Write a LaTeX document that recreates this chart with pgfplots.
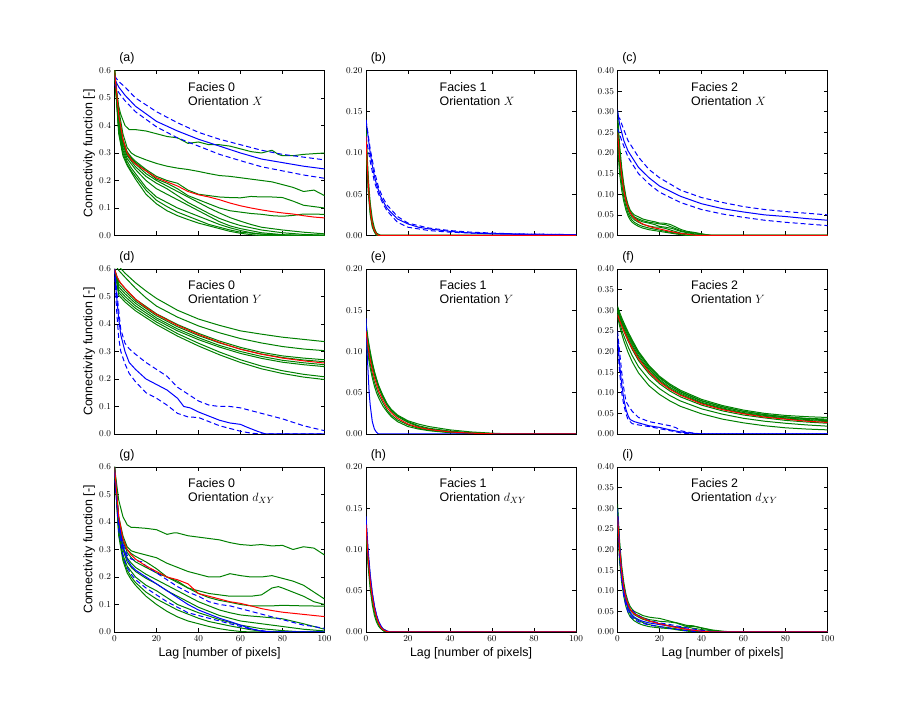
\documentclass[border=0pt]{standalone}
\usepackage{pgfplots}
\pgfplotsset{compat=1.18}
\usepackage{fontspec}
\newfontfamily\lsans{Liberation Sans}
\definecolor{mgreen}{rgb}{0,0.5,0}
\definecolor{mblue}{rgb}{0,0,1}
\definecolor{mred}{rgb}{1,0,0}
\pgfplotsset{
 panel/.style={scale only axis, width=210pt, height=165pt, xmin=0, xmax=100, ymin=0,
   xtick={0,20,40,60,80,100}, xtick pos=both, ytick pos=both, tick align=inside,
   major tick length=4pt, axis line style={line width=0.8pt},
   every tick/.style={black,line width=0.6pt},
   tick label style={font=\fontsize{8.8}{10}\selectfont},
   label style={font=\lsans\fontsize{12.4}{14}\selectfont},
   title style={at={(0.022,1.018)}, anchor=base west, inner sep=0pt, font=\lsans\fontsize{12.4}{14}\selectfont},
   every axis plot/.append style={line width=1pt, line join=round},
 },
 c1/.style={ymax=0.6, ytick={0,0.1,0.2,0.3,0.4,0.5,0.6}, yticklabel style={/pgf/number format/.cd,fixed,fixed zerofill,precision=1}},
 c2/.style={ymax=0.2, ytick={0,0.05,0.1,0.15,0.2}, yticklabel style={/pgf/number format/.cd,fixed,fixed zerofill,precision=2}},
 c3/.style={ymax=0.4, ytick={0,0.05,0.1,0.15,0.2,0.25,0.3,0.35,0.4}, yticklabel style={/pgf/number format/.cd,fixed,fixed zerofill,precision=2}},
 notx/.style={xticklabels={}},
 bot/.style={xlabel={Lag [number of pixels]}, xlabel style={at={(axis description cs:0.5,-0.15)}, anchor=base}},
 ylab/.style={ylabel={Connectivity function [-]}, ylabel style={at={(axis description cs:-0.105,0.5)}, anchor=base}},
 gr/.style={mgreen}, bl/.style={mblue}, bd/.style={mblue, dash pattern=on 5pt off 3pt}, rd/.style={mred},
 facies/.style 2 args={extra description/.code={\node[anchor=north west, align=left, inner sep=0pt, font=\lsans\fontsize{12.4}{14}\selectfont] at (0.35,0.93) {Facies #1\\Orientation #2};}},
}
\begin{document}
\begin{tikzpicture}
\useasboundingbox (0pt,0pt) rectangle (919pt,722pt);
% ---------------- (a)
\begin{axis}[panel, c1, notx, ylab, title={(a)}, facies={0}{$X$}, at={(114.5pt,486.5pt)}, anchor=south west]
\addplot[gr] coordinates {(0,0.6)(1,0.52)(2,0.47)(3,0.44)(5,0.4)(7,0.385)(10,0.385)(15,0.38)(20,0.37)(25,0.36)(30,0.355)(35,0.335)(40,0.34)(45,0.33)(50,0.33)(55,0.325)(60,0.315)(65,0.305)(70,0.3)(75,0.31)(78,0.295)(80,0.29)(85,0.29)(90,0.295)(100,0.3)};
\addplot[gr] coordinates {(0,0.6)(2,0.46)(4,0.37)(6,0.32)(8,0.3)(10,0.29)(15,0.275)(20,0.262)(25,0.252)(30,0.245)(35,0.24)(40,0.233)(45,0.225)(50,0.218)(55,0.215)(60,0.21)(65,0.205)(70,0.2)(75,0.195)(80,0.185)(85,0.175)(90,0.16)(95,0.165)(100,0.145)};
\addplot[gr] coordinates {(0,0.6)(2,0.44)(4,0.35)(6,0.305)(8,0.285)(10,0.27)(15,0.24)(20,0.215)(25,0.2)(30,0.19)(35,0.165)(40,0.15)(45,0.145)(50,0.14)(55,0.138)(60,0.137)(65,0.142)(70,0.14)(75,0.14)(80,0.138)(85,0.125)(90,0.11)(95,0.105)(100,0.1)};
\addplot[gr] coordinates {(0,0.6)(2,0.43)(4,0.345)(6,0.3)(8,0.28)(10,0.265)(15,0.235)(20,0.205)(25,0.19)(30,0.17)(35,0.145)(40,0.13)(45,0.115)(50,0.1)(55,0.09)(60,0.085)(65,0.08)(70,0.077)(75,0.072)(80,0.07)(85,0.073)(90,0.078)(100,0.077)};
\addplot[gr] coordinates {(0,0.6)(2,0.42)(4,0.34)(6,0.295)(8,0.275)(10,0.26)(15,0.225)(20,0.2)(25,0.18)(30,0.16)(35,0.14)(40,0.12)(45,0.1)(50,0.082)(55,0.065)(60,0.052)(65,0.04)(70,0.03)(80,0.02)(90,0.012)(100,0.006)};
\addplot[gr] coordinates {(0,0.6)(2,0.41)(4,0.33)(6,0.29)(8,0.27)(10,0.25)(15,0.215)(20,0.19)(25,0.17)(30,0.145)(35,0.12)(40,0.1)(45,0.08)(50,0.062)(55,0.048)(60,0.036)(70,0.02)(80,0.01)(90,0.004)(100,0.001)};
\addplot[gr] coordinates {(0,0.6)(2,0.4)(4,0.32)(6,0.28)(8,0.26)(10,0.24)(15,0.2)(20,0.17)(25,0.15)(30,0.13)(35,0.11)(40,0.09)(45,0.07)(50,0.05)(55,0.035)(60,0.025)(70,0.01)(80,0.003)(90,0)(100,0)};
\addplot[gr] coordinates {(0,0.6)(2,0.39)(4,0.31)(6,0.27)(8,0.245)(10,0.225)(15,0.175)(20,0.14)(25,0.12)(30,0.1)(35,0.085)(40,0.07)(45,0.055)(50,0.04)(55,0.028)(60,0.018)(65,0.01)(70,0.005)(80,0)(100,0)};
\addplot[gr] coordinates {(0,0.6)(2,0.38)(4,0.3)(6,0.26)(8,0.235)(10,0.215)(15,0.165)(20,0.128)(25,0.105)(30,0.085)(35,0.07)(40,0.055)(45,0.04)(50,0.03)(55,0.02)(60,0.012)(70,0.005)(80,0.002)(90,0)(100,0)};
\addplot[gr] coordinates {(0,0.6)(2,0.37)(4,0.29)(6,0.255)(8,0.23)(10,0.205)(15,0.15)(20,0.115)(25,0.09)(30,0.072)(35,0.058)(40,0.045)(45,0.035)(50,0.025)(55,0.015)(60,0.008)(65,0.003)(70,0)(100,0)};
\addplot[bl] coordinates {(0,0.57)(2,0.54)(5,0.51)(10,0.47)(20,0.415)(30,0.38)(40,0.35)(50,0.325)(60,0.3)(70,0.278)(80,0.265)(90,0.252)(100,0.242)};
\addplot[bd] coordinates {(0,0.58)(2,0.56)(5,0.54)(10,0.5)(20,0.45)(30,0.41)(40,0.375)(50,0.35)(60,0.33)(70,0.31)(80,0.295)(90,0.285)(100,0.275)};
\addplot[bd] coordinates {(0,0.55)(2,0.52)(5,0.49)(10,0.45)(20,0.395)(30,0.355)(40,0.325)(50,0.295)(60,0.272)(70,0.25)(80,0.235)(90,0.22)(100,0.208)};
\addplot[rd] coordinates {(0,0.6)(2,0.44)(4,0.35)(6,0.3)(8,0.275)(10,0.26)(15,0.235)(20,0.21)(25,0.195)(30,0.18)(35,0.16)(40,0.148)(45,0.14)(50,0.13)(55,0.118)(60,0.108)(65,0.1)(70,0.093)(75,0.087)(80,0.082)(85,0.078)(90,0.072)(95,0.067)(100,0.064)};
\end{axis}
% ---------------- (b)
\begin{axis}[panel, c2, notx, title={(b)}, facies={1}{$X$}, at={(366pt,486.5pt)}, anchor=south west]
\addplot[gr] coordinates {(0,0.125)(0.5,0.095)(1,0.07)(1.5,0.05)(2,0.034)(3,0.016)(4,0.007)(5,0.002)(6,0)(100,0)};
\addplot[gr] coordinates {(0,0.115)(0.5,0.085)(1,0.06)(1.5,0.042)(2,0.028)(3,0.012)(4,0.005)(5,0.001)(6,0)(100,0)};
\addplot[gr] coordinates {(0,0.13)(0.5,0.1)(1,0.075)(1.5,0.055)(2,0.04)(3,0.02)(4,0.009)(5,0.003)(7,0)(100,0)};
\addplot[gr] coordinates {(0,0.11)(1,0.055)(2,0.025)(3,0.01)(4,0.004)(5,0)(100,0)};
\addplot[bl] coordinates {(0,0.14)(1,0.12)(2,0.1)(3,0.085)(4,0.072)(5,0.062)(7,0.047)(10,0.033)(15,0.02)(20,0.014)(25,0.01)(30,0.008)(40,0.005)(50,0.003)(60,0.002)(80,0.001)(100,0)};
\addplot[bd] coordinates {(0,0.14)(2,0.105)(4,0.078)(6,0.058)(8,0.046)(10,0.037)(15,0.023)(20,0.015)(30,0.009)(40,0.006)(50,0.004)(70,0.002)(100,0.001)};
\addplot[bd] coordinates {(0,0.12)(2,0.09)(4,0.065)(6,0.05)(8,0.039)(10,0.03)(15,0.016)(20,0.01)(30,0.006)(40,0.004)(50,0.003)(70,0.002)(100,0.001)};
\addplot[rd] coordinates {(0,0.12)(0.5,0.09)(1,0.066)(1.5,0.047)(2,0.032)(3,0.014)(4,0.006)(5,0.002)(6,0)(100,0)};
\end{axis}
% ---------------- (c)
\begin{axis}[panel, c3, notx, title={(c)}, facies={2}{$X$}, at={(617.5pt,486.5pt)}, anchor=south west]
\addplot[gr] coordinates {(0,0.3)(1,0.22)(2,0.165)(3,0.125)(4,0.095)(5,0.075)(6,0.062)(7,0.055)(8,0.05)(10,0.045)(12,0.04)(15,0.036)(18,0.033)(20,0.03)(22,0.03)(25,0.027)(28,0.02)(30,0.015)(33,0.01)(36,0.008)(40,0.004)(45,0)(100,0)};
\addplot[gr] coordinates {(0,0.28)(1,0.2)(2,0.15)(3,0.115)(4,0.088)(5,0.07)(6,0.058)(7,0.05)(8,0.045)(10,0.04)(12,0.036)(15,0.032)(18,0.03)(20,0.028)(23,0.026)(26,0.02)(30,0.012)(33,0.008)(37,0.006)(42,0.002)(45,0)(100,0)};
\addplot[gr] coordinates {(0,0.26)(1,0.19)(2,0.14)(3,0.105)(4,0.08)(5,0.062)(6,0.05)(7,0.043)(8,0.038)(10,0.032)(12,0.027)(15,0.023)(18,0.02)(20,0.02)(23,0.017)(26,0.012)(30,0.006)(35,0.003)(40,0)(100,0)};
\addplot[gr] coordinates {(0,0.24)(1,0.17)(2,0.125)(3,0.092)(4,0.07)(5,0.054)(6,0.044)(7,0.037)(8,0.032)(10,0.026)(12,0.022)(15,0.018)(18,0.015)(20,0.013)(25,0.008)(30,0.004)(34,0)(100,0)};
\addplot[gr] coordinates {(0,0.27)(1,0.2)(2,0.15)(3,0.112)(4,0.086)(5,0.068)(6,0.056)(7,0.048)(8,0.043)(10,0.037)(12,0.033)(15,0.03)(18,0.026)(20,0.022)(23,0.02)(26,0.017)(30,0.01)(34,0.006)(38,0.003)(42,0)(100,0)};
\addplot[gr] coordinates {(0,0.22)(1,0.15)(2,0.11)(3,0.082)(4,0.062)(5,0.048)(6,0.038)(7,0.032)(8,0.028)(10,0.022)(12,0.018)(15,0.014)(20,0.01)(25,0.006)(30,0.002)(33,0)(100,0)};
\addplot[bl] coordinates {(0,0.305)(1,0.27)(2,0.25)(3,0.23)(5,0.205)(10,0.165)(15,0.14)(20,0.12)(30,0.095)(40,0.077)(50,0.065)(60,0.057)(70,0.05)(80,0.046)(90,0.041)(100,0.037)};
\addplot[bd] coordinates {(0,0.28)(1,0.285)(2,0.27)(5,0.23)(10,0.19)(15,0.16)(20,0.14)(30,0.11)(40,0.092)(50,0.08)(60,0.07)(70,0.063)(80,0.058)(90,0.054)(100,0.05)};
\addplot[bd] coordinates {(0,0.26)(2,0.23)(5,0.19)(10,0.15)(15,0.125)(20,0.105)(30,0.08)(40,0.063)(50,0.052)(60,0.044)(70,0.037)(80,0.032)(90,0.028)(100,0.024)};
\addplot[rd] coordinates {(0,0.25)(1,0.19)(2,0.145)(3,0.11)(4,0.085)(5,0.068)(6,0.056)(7,0.048)(8,0.042)(10,0.034)(12,0.028)(15,0.022)(18,0.018)(20,0.016)(25,0.01)(30,0.005)(35,0.002)(38,0)(100,0)};
\end{axis}
% ---------------- (d)
\begin{axis}[panel, c1, notx, ylab, title={(d)}, facies={0}{$Y$}, at={(114.5pt,288pt)}, anchor=south west]
\addplot[gr] coordinates {(0,0.63)(2,0.61)(5,0.585)(10,0.55)(15,0.52)(20,0.493)(30,0.45)(40,0.418)(50,0.395)(60,0.375)(70,0.363)(80,0.352)(90,0.344)(100,0.336)};
\addplot[gr] coordinates {(0,0.62)(2,0.595)(5,0.57)(10,0.53)(15,0.495)(20,0.465)(30,0.425)(40,0.393)(50,0.368)(60,0.347)(70,0.331)(80,0.318)(90,0.309)(100,0.303)};
\addplot[gr] coordinates {(0,0.6)(2,0.555)(5,0.53)(10,0.49)(20,0.437)(30,0.398)(40,0.366)(50,0.338)(60,0.315)(70,0.297)(80,0.284)(90,0.276)(100,0.27)};
\addplot[gr] coordinates {(0,0.6)(2,0.545)(5,0.52)(10,0.483)(20,0.43)(30,0.39)(40,0.358)(50,0.331)(60,0.309)(70,0.291)(80,0.278)(90,0.269)(100,0.263)};
\addplot[gr] coordinates {(0,0.6)(2,0.535)(5,0.51)(10,0.475)(20,0.422)(30,0.382)(40,0.35)(50,0.322)(60,0.3)(70,0.282)(80,0.268)(90,0.259)(100,0.252)};
\addplot[gr] coordinates {(0,0.6)(2,0.525)(5,0.5)(10,0.466)(20,0.415)(30,0.375)(40,0.343)(50,0.316)(60,0.293)(70,0.275)(80,0.261)(90,0.252)(100,0.245)};
\addplot[gr] coordinates {(0,0.6)(2,0.515)(5,0.49)(10,0.457)(20,0.407)(30,0.365)(40,0.33)(50,0.298)(60,0.27)(70,0.247)(80,0.23)(90,0.217)(100,0.208)};
\addplot[gr] coordinates {(0,0.6)(2,0.505)(5,0.48)(10,0.448)(20,0.398)(30,0.356)(40,0.32)(50,0.288)(60,0.26)(70,0.237)(80,0.22)(90,0.207)(100,0.198)};
\addplot[bl] coordinates {(0,0.6)(1,0.5)(2,0.42)(3,0.36)(5,0.3)(7,0.26)(10,0.235)(15,0.2)(20,0.18)(25,0.16)(30,0.13)(33,0.1)(36,0.095)(40,0.08)(45,0.065)(50,0.05)(55,0.04)(60,0.035)(63,0.025)(68,0.01)(72,0)(100,0)};
\addplot[bd] coordinates {(0,0.6)(2,0.45)(3,0.38)(5,0.33)(7,0.31)(10,0.29)(15,0.26)(20,0.235)(25,0.21)(30,0.17)(35,0.145)(40,0.12)(45,0.105)(50,0.1)(55,0.1)(60,0.095)(65,0.085)(70,0.075)(80,0.055)(90,0.03)(100,0.012)};
\addplot[bd] coordinates {(0,0.6)(1,0.45)(2,0.35)(3,0.3)(5,0.255)(7,0.22)(10,0.19)(15,0.15)(20,0.13)(25,0.105)(30,0.075)(35,0.062)(40,0.06)(45,0.045)(50,0.03)(55,0.02)(60,0.01)(65,0.003)(70,0)(100,0)};
\addplot[rd] coordinates {(0,0.6)(1,0.575)(2,0.56)(3,0.548)(5,0.53)(10,0.49)(15,0.46)(20,0.435)(30,0.395)(40,0.362)(50,0.333)(60,0.308)(70,0.29)(80,0.276)(90,0.266)(100,0.258)};
\end{axis}
% ---------------- (e)
\begin{axis}[panel, c2, notx, title={(e)}, facies={1}{$Y$}, at={(366pt,288pt)}, anchor=south west]
\addplot[gr] coordinates {(0,0.135)(1,0.115)(2,0.1)(3,0.087)(4,0.076)(5,0.067)(6,0.059)(8,0.047)(10,0.037)(12,0.03)(15,0.023)(20,0.016)(25,0.012)(30,0.009)(40,0.005)(50,0.0025)(60,0.001)(70,0)(100,0)};
\addplot[gr] coordinates {(0,0.13)(1,0.11)(2,0.095)(3,0.082)(4,0.072)(5,0.064)(6,0.056)(8,0.044)(10,0.035)(12,0.028)(15,0.021)(20,0.014)(25,0.009)(30,0.006)(40,0.003)(50,0.0012)(60,0.0004)(70,0)(100,0)};
\addplot[gr] coordinates {(0,0.12)(1,0.1)(2,0.085)(3,0.073)(4,0.063)(5,0.055)(6,0.048)(8,0.038)(10,0.029)(12,0.023)(15,0.017)(20,0.011)(25,0.007)(30,0.0045)(40,0.002)(50,0.0008)(60,0)(100,0)};
\addplot[gr] coordinates {(0,0.115)(1,0.095)(2,0.08)(3,0.068)(4,0.058)(5,0.05)(6,0.044)(8,0.034)(10,0.027)(12,0.021)(15,0.015)(20,0.009)(25,0.006)(30,0.004)(40,0.0015)(50,0.0005)(60,0)(100,0)};
\addplot[gr] coordinates {(0,0.13)(1,0.112)(2,0.098)(3,0.085)(4,0.075)(5,0.066)(6,0.058)(8,0.046)(10,0.036)(12,0.029)(15,0.022)(20,0.015)(25,0.01)(30,0.007)(40,0.0035)(50,0.0015)(60,0.0005)(70,0)(100,0)};
\addplot[bl] coordinates {(0,0.14)(0.5,0.1)(1,0.075)(1.5,0.05)(2,0.035)(3,0.015)(4,0.006)(5,0.002)(6,0)(100,0)};
\addplot[rd] coordinates {(0,0.125)(1,0.105)(2,0.09)(3,0.078)(4,0.068)(5,0.06)(6,0.052)(8,0.041)(10,0.032)(12,0.026)(15,0.019)(20,0.012)(25,0.008)(30,0.0055)(40,0.0025)(50,0.001)(60,0.0003)(70,0)(100,0)};
\end{axis}
% ---------------- (f)
\begin{axis}[panel, c3, notx, title={(f)}, facies={2}{$Y$}, at={(617.5pt,288pt)}, anchor=south west]
\addplot[gr] coordinates {(0,0.31)(1,0.295)(2,0.282)(3,0.27)(5,0.248)(7,0.228)(10,0.2)(15,0.166)(20,0.14)(25,0.121)(30,0.106)(40,0.084)(50,0.069)(60,0.058)(70,0.05)(80,0.045)(90,0.042)(100,0.04)};
\addplot[gr] coordinates {(0,0.305)(1,0.29)(2,0.277)(3,0.265)(5,0.243)(7,0.222)(10,0.195)(15,0.161)(20,0.136)(25,0.117)(30,0.102)(40,0.08)(50,0.066)(60,0.055)(70,0.047)(80,0.042)(90,0.038)(100,0.036)};
\addplot[gr] coordinates {(0,0.3)(1,0.285)(2,0.272)(3,0.26)(5,0.238)(7,0.217)(10,0.19)(15,0.157)(20,0.132)(25,0.113)(30,0.099)(40,0.077)(50,0.063)(60,0.052)(70,0.045)(80,0.039)(90,0.035)(100,0.032)};
\addplot[gr] coordinates {(0,0.3)(1,0.283)(2,0.268)(3,0.255)(5,0.232)(7,0.212)(10,0.186)(15,0.153)(20,0.129)(25,0.11)(30,0.096)(40,0.075)(50,0.061)(60,0.05)(70,0.043)(80,0.037)(90,0.033)(100,0.03)};
\addplot[gr] coordinates {(0,0.295)(1,0.278)(2,0.263)(3,0.25)(5,0.226)(7,0.205)(10,0.178)(15,0.146)(20,0.122)(25,0.104)(30,0.09)(40,0.07)(50,0.056)(60,0.046)(70,0.039)(80,0.033)(90,0.029)(100,0.026)};
\addplot[gr] coordinates {(0,0.29)(1,0.27)(2,0.253)(3,0.238)(5,0.212)(7,0.19)(10,0.163)(15,0.132)(20,0.11)(25,0.093)(30,0.08)(40,0.061)(50,0.048)(60,0.038)(70,0.031)(80,0.026)(90,0.022)(100,0.019)};
\addplot[gr] coordinates {(0,0.285)(1,0.262)(2,0.243)(3,0.226)(5,0.198)(7,0.175)(10,0.148)(15,0.117)(20,0.096)(25,0.08)(30,0.067)(40,0.049)(50,0.036)(60,0.027)(70,0.02)(80,0.015)(90,0.012)(100,0.01)};
\addplot[gr] coordinates {(0,0.3)(1,0.287)(2,0.275)(3,0.264)(5,0.244)(7,0.225)(10,0.198)(15,0.164)(20,0.138)(25,0.118)(30,0.103)(40,0.081)(50,0.066)(60,0.055)(70,0.047)(80,0.041)(90,0.037)(100,0.034)};
\addplot[bl] coordinates {(0,0.24)(1,0.17)(2,0.12)(3,0.085)(4,0.06)(5,0.045)(6,0.035)(8,0.03)(10,0.027)(15,0.02)(20,0.016)(25,0.01)(30,0.005)(35,0.002)(40,0)(100,0)};
\addplot[bd] coordinates {(0,0.25)(1,0.2)(2,0.15)(3,0.11)(4,0.08)(5,0.07)(7,0.055)(10,0.04)(15,0.03)(20,0.025)(25,0.02)(28,0.015)(30,0.008)(35,0.003)(40,0)(100,0)};
\addplot[bd] coordinates {(0,0.22)(1,0.15)(2,0.1)(3,0.07)(4,0.05)(5,0.035)(7,0.025)(10,0.022)(15,0.018)(20,0.013)(25,0.008)(30,0.003)(35,0)(100,0)};
\addplot[rd] coordinates {(0,0.29)(1,0.275)(2,0.262)(3,0.25)(5,0.228)(7,0.208)(10,0.182)(15,0.15)(20,0.126)(25,0.108)(30,0.094)(40,0.073)(50,0.059)(60,0.049)(70,0.041)(80,0.036)(90,0.031)(100,0.028)};
\end{axis}
% ---------------- (g)
\begin{axis}[panel, c1, bot, ylab, title={(g)}, facies={0}{$d_{XY}$}, at={(114.5pt,90pt)}, anchor=south west]
\addplot[gr] coordinates {(0,0.6)(2,0.48)(4,0.42)(6,0.39)(8,0.38)(10,0.38)(15,0.377)(20,0.372)(25,0.355)(28,0.36)(30,0.36)(35,0.35)(40,0.345)(45,0.34)(50,0.335)(55,0.325)(60,0.318)(65,0.315)(70,0.318)(75,0.313)(80,0.315)(85,0.3)(90,0.31)(95,0.305)(100,0.28)};
\addplot[gr] coordinates {(0,0.6)(2,0.42)(4,0.35)(6,0.31)(8,0.295)(10,0.29)(15,0.28)(20,0.27)(25,0.25)(30,0.235)(35,0.22)(40,0.21)(45,0.2)(50,0.2)(55,0.212)(60,0.205)(65,0.2)(70,0.2)(75,0.205)(80,0.195)(85,0.185)(90,0.17)(95,0.145)(100,0.12)};
\addplot[gr] coordinates {(0,0.6)(2,0.41)(4,0.34)(6,0.3)(8,0.285)(10,0.275)(15,0.255)(20,0.23)(25,0.2)(30,0.18)(35,0.16)(40,0.15)(45,0.14)(50,0.135)(55,0.13)(60,0.13)(65,0.13)(70,0.135)(75,0.16)(78,0.165)(80,0.16)(85,0.145)(90,0.13)(95,0.11)(100,0.1)};
\addplot[gr] coordinates {(0,0.6)(2,0.4)(4,0.33)(6,0.29)(8,0.27)(10,0.255)(15,0.235)(20,0.215)(25,0.2)(30,0.185)(35,0.16)(40,0.14)(45,0.125)(50,0.115)(55,0.108)(60,0.1)(65,0.095)(70,0.095)(75,0.095)(80,0.097)(90,0.095)(100,0.094)};
\addplot[gr] coordinates {(0,0.6)(2,0.39)(4,0.31)(6,0.27)(8,0.25)(10,0.235)(15,0.21)(20,0.19)(25,0.17)(30,0.15)(35,0.13)(40,0.11)(45,0.095)(50,0.08)(55,0.07)(60,0.062)(65,0.058)(70,0.055)(80,0.048)(90,0.03)(100,0.01)};
\addplot[gr] coordinates {(0,0.6)(2,0.38)(4,0.3)(6,0.255)(8,0.235)(10,0.22)(15,0.195)(20,0.175)(25,0.15)(30,0.13)(35,0.11)(40,0.09)(45,0.075)(50,0.06)(55,0.05)(60,0.04)(70,0.03)(80,0.02)(90,0.01)(100,0.004)};
\addplot[gr] coordinates {(0,0.6)(2,0.37)(4,0.28)(6,0.24)(8,0.22)(10,0.2)(15,0.17)(20,0.15)(25,0.125)(30,0.1)(35,0.085)(40,0.07)(45,0.058)(50,0.045)(55,0.035)(60,0.025)(70,0.012)(80,0.005)(90,0)(100,0)};
\addplot[gr] coordinates {(0,0.6)(2,0.36)(4,0.27)(6,0.225)(8,0.2)(10,0.18)(15,0.145)(20,0.12)(25,0.1)(30,0.08)(35,0.065)(40,0.05)(45,0.038)(50,0.03)(55,0.022)(60,0.015)(65,0.008)(70,0.003)(80,0)(100,0)};
\addplot[gr] coordinates {(0,0.6)(2,0.35)(4,0.26)(6,0.215)(8,0.19)(10,0.17)(15,0.13)(20,0.1)(25,0.075)(30,0.055)(35,0.04)(40,0.03)(45,0.02)(50,0.012)(55,0.006)(60,0.002)(65,0)(100,0)};
\addplot[bd] coordinates {(0,0.58)(2,0.4)(4,0.32)(6,0.28)(8,0.265)(10,0.26)(13,0.255)(15,0.24)(20,0.215)(25,0.19)(30,0.165)(35,0.145)(40,0.13)(45,0.11)(50,0.1)(55,0.095)(60,0.085)(65,0.075)(70,0.065)(75,0.055)(80,0.045)(85,0.035)(90,0.025)(95,0.02)(100,0.013)};
\addplot[bl] coordinates {(0,0.6)(2,0.4)(4,0.31)(6,0.265)(8,0.24)(10,0.225)(15,0.2)(20,0.175)(25,0.15)(30,0.125)(35,0.1)(40,0.08)(45,0.065)(50,0.05)(55,0.038)(60,0.025)(65,0.012)(70,0.003)(75,0)(100,0)};
\addplot[bd] coordinates {(0,0.58)(2,0.37)(4,0.28)(6,0.235)(8,0.21)(10,0.19)(15,0.16)(20,0.135)(25,0.11)(30,0.09)(35,0.07)(40,0.06)(45,0.05)(50,0.04)(55,0.03)(60,0.02)(65,0.01)(70,0.005)(75,0)(100,0)};
\addplot[rd] coordinates {(0,0.6)(2,0.42)(4,0.34)(6,0.3)(8,0.28)(10,0.265)(15,0.24)(20,0.22)(25,0.2)(30,0.19)(35,0.175)(40,0.14)(45,0.13)(50,0.12)(55,0.11)(60,0.104)(65,0.095)(70,0.085)(75,0.078)(80,0.072)(85,0.068)(90,0.064)(95,0.06)(100,0.056)};
\end{axis}
% ---------------- (h)
\begin{axis}[panel, c2, bot, title={(h)}, facies={1}{$d_{XY}$}, at={(366pt,90pt)}, anchor=south west]
\addplot[gr] coordinates {(0,0.13)(1,0.085)(2,0.058)(3,0.038)(4,0.024)(5,0.015)(6,0.009)(7,0.005)(8,0.002)(10,0)(100,0)};
\addplot[gr] coordinates {(0,0.12)(1,0.08)(2,0.052)(3,0.033)(4,0.02)(5,0.012)(6,0.007)(7,0.004)(8,0.002)(9,0)(100,0)};
\addplot[gr] coordinates {(0,0.135)(1,0.095)(2,0.066)(3,0.045)(4,0.03)(5,0.019)(6,0.012)(7,0.007)(8,0.004)(10,0.001)(11,0)(100,0)};
\addplot[bl] coordinates {(0,0.14)(0.5,0.12)(1,0.1)(1.5,0.085)(2,0.07)(3,0.048)(4,0.032)(5,0.021)(6,0.013)(7,0.008)(8,0.004)(9,0.002)(10,0.001)(12,0)(100,0)};
\addplot[bd] coordinates {(0,0.135)(1,0.095)(2,0.066)(3,0.046)(4,0.031)(5,0.02)(6,0.012)(7,0.007)(8,0.004)(10,0.001)(12,0)(100,0)};
\addplot[rd] coordinates {(0,0.13)(1,0.09)(2,0.062)(3,0.042)(4,0.028)(5,0.018)(6,0.011)(7,0.006)(8,0.003)(10,0.0005)(12,0)(100,0)};
\end{axis}
% ---------------- (i)
\begin{axis}[panel, c3, bot, title={(i)}, facies={2}{$d_{XY}$}, at={(617.5pt,90pt)}, anchor=south west]
\addplot[gr] coordinates {(0,0.31)(1,0.22)(2,0.16)(3,0.12)(4,0.092)(5,0.074)(6,0.062)(7,0.055)(8,0.05)(10,0.045)(12,0.04)(15,0.036)(18,0.034)(20,0.033)(23,0.029)(26,0.025)(30,0.02)(33,0.016)(36,0.015)(40,0.01)(45,0.005)(50,0.002)(55,0)(100,0)};
\addplot[gr] coordinates {(0,0.3)(1,0.21)(2,0.15)(3,0.11)(4,0.084)(5,0.067)(6,0.055)(8,0.045)(10,0.04)(12,0.035)(15,0.03)(18,0.028)(20,0.026)(25,0.024)(28,0.022)(30,0.018)(35,0.01)(40,0.006)(45,0.003)(50,0)(100,0)};
\addplot[gr] coordinates {(0,0.28)(1,0.19)(2,0.135)(3,0.098)(4,0.073)(5,0.056)(6,0.045)(8,0.034)(10,0.028)(12,0.023)(15,0.018)(20,0.013)(25,0.01)(30,0.006)(35,0.003)(40,0)(100,0)};
\addplot[gr] coordinates {(0,0.26)(1,0.17)(2,0.12)(3,0.086)(4,0.062)(5,0.047)(6,0.037)(8,0.027)(10,0.021)(12,0.017)(15,0.013)(20,0.01)(25,0.008)(30,0.004)(35,0.001)(38,0)(100,0)};
\addplot[gr] coordinates {(0,0.29)(1,0.2)(2,0.145)(3,0.107)(4,0.082)(5,0.064)(6,0.053)(8,0.042)(10,0.036)(12,0.031)(15,0.026)(18,0.023)(20,0.02)(25,0.015)(30,0.011)(33,0.012)(36,0.014)(40,0.01)(45,0.004)(50,0.001)(53,0)(100,0)};
\addplot[bl] coordinates {(0,0.29)(1,0.2)(2,0.14)(3,0.1)(4,0.075)(5,0.058)(6,0.048)(7,0.041)(8,0.036)(10,0.03)(12,0.026)(15,0.022)(20,0.018)(25,0.014)(30,0.01)(35,0.005)(40,0.002)(45,0)(100,0)};
\addplot[bd] coordinates {(0,0.3)(1,0.21)(2,0.15)(3,0.11)(4,0.085)(5,0.068)(6,0.058)(8,0.047)(10,0.04)(12,0.034)(15,0.028)(20,0.022)(25,0.018)(30,0.013)(35,0.008)(40,0.004)(45,0.001)(48,0)(100,0)};
\addplot[bd] coordinates {(0,0.27)(1,0.18)(2,0.125)(3,0.088)(4,0.064)(5,0.049)(6,0.04)(8,0.03)(10,0.025)(12,0.021)(15,0.017)(20,0.013)(25,0.009)(30,0.005)(35,0.002)(40,0)(100,0)};
\addplot[rd] coordinates {(0,0.28)(1,0.2)(2,0.145)(3,0.108)(4,0.083)(5,0.067)(6,0.056)(7,0.049)(8,0.044)(10,0.038)(12,0.033)(15,0.027)(20,0.02)(25,0.014)(30,0.009)(35,0.005)(40,0.002)(45,0)(100,0)};
\end{axis}
\end{tikzpicture}
\end{document}
